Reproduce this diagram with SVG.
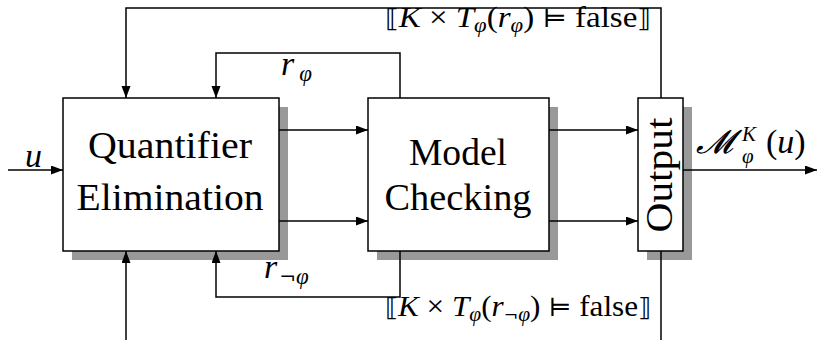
<svg xmlns="http://www.w3.org/2000/svg" width="818" height="340" viewBox="0 0 818 340">
  <style>
    .box { fill: #ffffff; stroke: #000000; stroke-width: 1.5; }
    .shadow { fill: #999999; stroke: none; }
    .wire { fill: none; stroke: #000000; stroke-width: 1.5; }
    .lbl { font-family: "Liberation Serif", "DejaVu Serif", serif; fill: #000000; }
    .it { font-style: italic; }
    .sym { font-family: "DejaVu Serif", serif; font-style: normal; }
  </style>
  <defs>
    <marker id="arrow" markerUnits="userSpaceOnUse" markerWidth="13" markerHeight="10" refX="12" refY="4.5" orient="auto">
      <path d="M0,0 L12,4.5 L0,9 Z" fill="#000000"/>
    </marker>
  </defs>

  <rect width="818" height="340" fill="#ffffff"/>

  <!-- blocks -->
  <g id="quantifier-elimination">
    <rect class="shadow" x="72" y="107" width="216" height="153"/>
    <rect class="box" x="63" y="98" width="216" height="153"/>
    <text class="lbl" x="170" y="158" font-size="37" text-anchor="middle" textLength="164" lengthAdjust="spacingAndGlyphs">Quantifier</text>
    <text class="lbl" x="170" y="210" font-size="37" text-anchor="middle" textLength="187" lengthAdjust="spacingAndGlyphs">Elimination</text>
  </g>

  <g id="model-checking">
    <rect class="shadow" x="377" y="107" width="181" height="153"/>
    <rect class="box" x="368" y="98" width="181" height="153"/>
    <text class="lbl" x="458" y="165" font-size="37" text-anchor="middle" textLength="98" lengthAdjust="spacingAndGlyphs">Model</text>
    <text class="lbl" x="458" y="210" font-size="37" text-anchor="middle" textLength="147" lengthAdjust="spacingAndGlyphs">Checking</text>
  </g>

  <g id="output">
    <rect class="shadow" x="647" y="107" width="45" height="153"/>
    <rect class="box" x="638" y="98" width="45" height="153"/>
    <text class="lbl" transform="translate(672,175) rotate(-90)" font-size="37" text-anchor="middle" textLength="115" lengthAdjust="spacingAndGlyphs">Output</text>
  </g>

  <!-- connectors -->
  <g id="connectors">
    <path class="wire" d="M8,170 H63" marker-end="url(#arrow)"/>
    <path class="wire" d="M279,130 H368" marker-end="url(#arrow)"/>
    <path class="wire" d="M279,221 H368" marker-end="url(#arrow)"/>
    <path class="wire" d="M549,130 H638" marker-end="url(#arrow)"/>
    <path class="wire" d="M549,221 H638" marker-end="url(#arrow)"/>
    <path class="wire" d="M683,170 H817" marker-end="url(#arrow)"/>
    <path class="wire" d="M661,98 V8 H126 V98" marker-end="url(#arrow)"/>
    <path class="wire" d="M400,98 V53 H216 V98" marker-end="url(#arrow)"/>
    <path class="wire" d="M400,251 V297 H216 V251" marker-end="url(#arrow)"/>
    <path class="wire" d="M126,340 V251" marker-end="url(#arrow)"/>
    <path class="wire" d="M661,251 V340"/>

    <!-- connector labels -->
    <text class="lbl it" x="25" y="167" font-size="34">u</text>
    <text class="lbl" x="281" y="75" font-size="34"><tspan class="it">r</tspan><tspan class="it" font-size="23" dx="5" dy="6">φ</tspan></text>
    <text class="lbl" x="264" y="278" font-size="34"><tspan class="it">r</tspan><tspan class="sym" font-size="20" dx="2" dy="6">¬</tspan><tspan class="it" font-size="23">φ</tspan></text>
    <text class="lbl" x="385" y="27" font-size="29" textLength="266" lengthAdjust="spacingAndGlyphs"><tspan class="sym" font-size="25">⟦</tspan><tspan class="it">K</tspan> × <tspan class="it">T</tspan><tspan class="it" font-size="20" dy="5">φ</tspan><tspan dy="-5">(</tspan><tspan class="it">r</tspan><tspan class="it" font-size="20" dy="5">φ</tspan><tspan dy="-5">) </tspan><tspan class="sym" font-size="25">⊨</tspan> false<tspan class="sym" font-size="25">⟧</tspan></text>
    <text class="lbl" x="385" y="316" font-size="29" textLength="266" lengthAdjust="spacingAndGlyphs"><tspan class="sym" font-size="25">⟦</tspan><tspan class="it">K</tspan> × <tspan class="it">T</tspan><tspan class="it" font-size="20" dy="5">φ</tspan><tspan dy="-5">(</tspan><tspan class="it">r</tspan><tspan class="sym" font-size="16" dy="5">¬</tspan><tspan class="it" font-size="20">φ</tspan><tspan dy="-5">) </tspan><tspan class="sym" font-size="25">⊨</tspan> false<tspan class="sym" font-size="25">⟧</tspan></text>
    <text class="lbl" x="696" y="153" font-size="33"><tspan class="it">𝓜</tspan></text>
    <text class="lbl it" x="742" y="141" font-size="21">K</text>
    <text class="lbl it" x="742" y="163" font-size="21">φ</text>
    <text class="lbl" x="766" y="153" font-size="34">(<tspan class="it">u</tspan>)</text>
  </g>
</svg>
